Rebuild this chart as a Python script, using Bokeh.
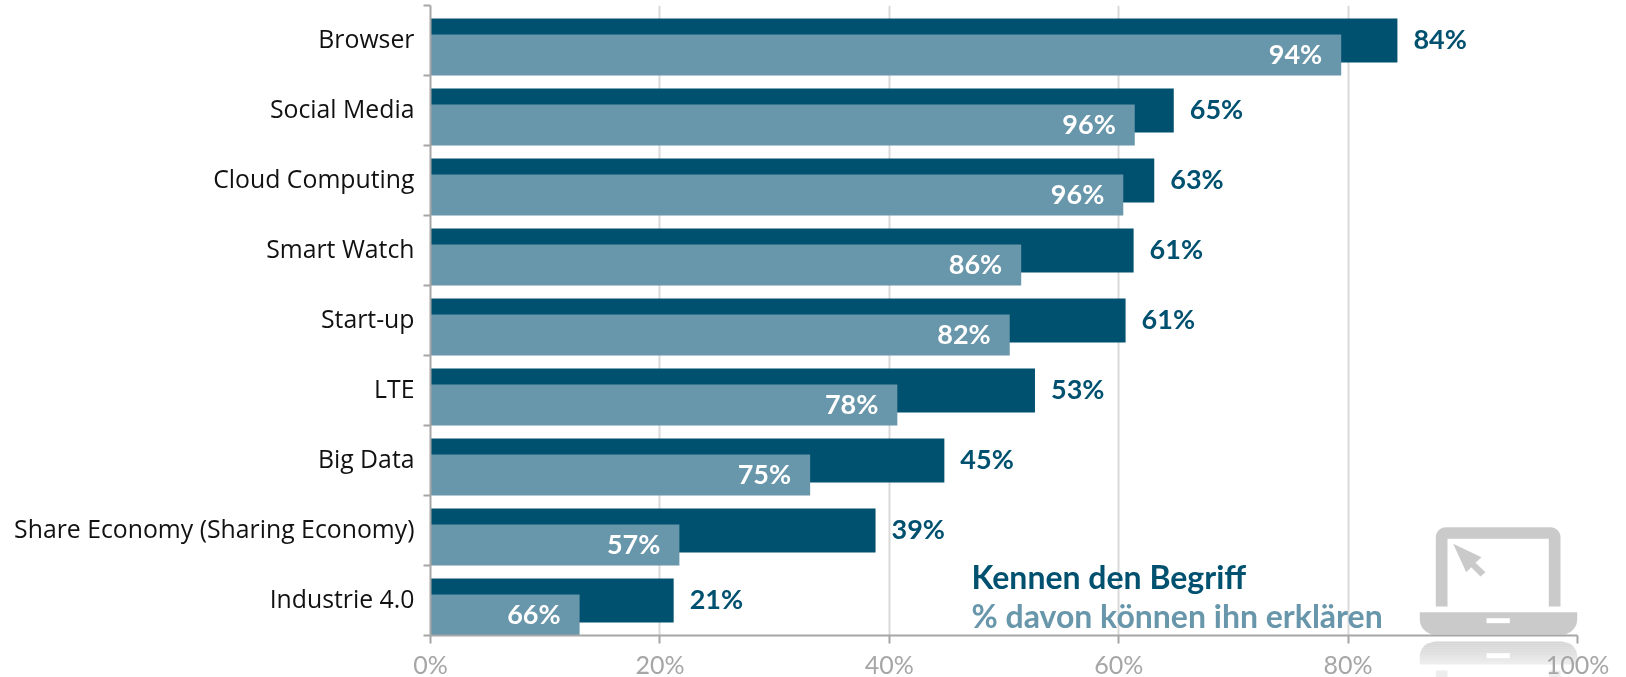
from bokeh.plotting import figure
from bokeh.embed import file_html
from bokeh.resources import INLINE
from bokeh.core.properties import value
from bokeh.models import (Range1d, FixedTicker, ColumnDataSource, Label)
import math

categories = ["Browser", "Social Media", "Cloud Computing", "Smart Watch", "Start-up", "LTE",
              "Big Data", "Share Economy (Sharing Economy)", "Industrie 4.0"]
kennen = [84.3, 64.8, 63.1, 61.3, 60.6, 52.7, 44.8, 38.8, 21.2]
erklaeren_bar = [79.4, 61.4, 60.4, 51.5, 50.5, 40.7, 33.1, 21.7, 13.0]
kennen_labels = ["84%", "65%", "63%", "61%", "61%", "53%", "45%", "39%", "21%"]
erklaeren_labels = ["94%", "96%", "96%", "86%", "82%", "78%", "75%", "57%", "66%"]
x_ticks = [0, 20, 40, 60, 80, 100]
x_tick_labels = ["0%", "20%", "40%", "60%", "80%", "100%"]
legend_texts = ["Kennen den Begriff", "% davon können ihn erklären"]

DARK = "#00506f"
LIGHT = "#6896aa"
GREY = "#a6a6a6"
ICON = "#cacaca"
FONT_CAT = "Open Sans"
FONT = "Lato"

n = len(categories)
W, H = 1626, 677
FRAME_L, FRAME_R, FRAME_T, FRAME_B = 430, 1577, 5, 635
PX_PER_PCT = (FRAME_R - FRAME_L) / 100

# background figure: decorative laptop icon, one unit = one pixel
bg = figure(width=W, height=H, output_backend="svg", toolbar_location=None,
            x_range=Range1d(0, W), y_range=Range1d(H, 0),
            min_border_left=0, min_border_right=0, min_border_top=0, min_border_bottom=0,
            outline_line_color=None, x_axis_location=None, y_axis_location=None)
bg.grid.visible = False
bg.styles = {"position": "fixed", "left": "0", "top": "0"}


def arc(cx, cy, r, a0, a1, k=8):
    return [(cx + r * math.cos(math.radians(a0 + (a1 - a0) * i / k)),
             cy + r * math.sin(math.radians(a0 + (a1 - a0) * i / k))) for i in range(k + 1)]


def shape(pts, color, alpha=1.0):
    bg.patch([q[0] for q in pts], [q[1] for q in pts], fill_color=color, fill_alpha=alpha, line_color=None)


shape([(1435.3, 606)] + arc(1445.3, 536.7, 10, 180, 270) + arc(1550, 536.7, 10, 270, 360)
      + [(1560, 606), (1548.3, 606), (1548.3, 538.3), (1447, 538.3), (1447, 606)], ICON)
shape([(1452.7, 543.3), (1481, 556.7), (1475, 562.3), (1485, 571.7), (1480, 576),
       (1470.7, 566.7), (1465.7, 571.7)], ICON)
shape([(1419.3, 611.7), (1576.7, 611.7)] + arc(1561.7, 619, 15, 0, 90) + arc(1434.3, 619, 15, 90, 180), ICON)
shape([(1486, 617.7), (1509.3, 617.7), (1509.3, 622.7), (1486, 622.7)], "white")

top, bot = 641.0, 664.0
steps = 12
for s in range(steps):
    y0 = top + (bot - top) * s / steps
    y1 = top + (bot - top) * (s + 1) / steps
    inset0 = 15 - math.sqrt(max(0.0, 225 - max(0.0, 15 - (y0 - top)) ** 2))
    inset1 = 15 - math.sqrt(max(0.0, 225 - max(0.0, 15 - (y1 - top)) ** 2))
    a = 0.8 - 0.5 * s / steps
    shape([(1419.3 + inset0, y0), (1576.7 - inset0, y0), (1576.7 - inset1, y1), (1419.3 + inset1, y1)], ICON, a)
shape([(1486, 652.7), (1509.3, 652.7), (1509.3, 657.7), (1486, 657.7)], "white")
shape([(1435.3, 670), (1447, 670), (1447, 677), (1435.3, 677)], ICON, 0.35)
shape([(1548.3, 670), (1560, 670), (1560, 677), (1548.3, 677)], ICON, 0.35)

# main chart, transparent, on top
p = figure(width=W, height=H, output_backend="svg", toolbar_location=None,
           x_range=Range1d(0, 100), y_range=Range1d(n, 0),
           min_border_left=FRAME_L, min_border_right=W - FRAME_R, min_border_top=FRAME_T,
           min_border_bottom=H - FRAME_B,
           outline_line_color=None, border_fill_color=None, background_fill_color=None)
p.styles = {"position": "fixed", "left": "0", "top": "0"}

pos = list(range(n))
src = ColumnDataSource(dict(
    dark_y=[i + 0.5 for i in pos], light_y=[i + 0.707 for i in pos],
    kennen=kennen, erkl=erklaeren_bar, klab=kennen_labels, elab=erklaeren_labels))

p.hbar(y="dark_y", right="kennen", left=0, height=44 / 70, source=src, fill_color=DARK, line_color=None)
p.hbar(y="light_y", right="erkl", left=0, height=41 / 70, source=src, fill_color=LIGHT, line_color=None)

p.text(x="kennen", y="dark_y", text="klab", source=src, x_offset=16, y_offset=-2, text_align="left",
       text_baseline="middle", text_color=DARK, text_font=value(FONT), text_font_style="bold",
       text_font_size="27px")
p.text(x="erkl", y="light_y", text="elab", source=src, x_offset=-19, y_offset=-1.5, text_align="right",
       text_baseline="middle", text_color="white", text_font=value(FONT), text_font_style="bold",
       text_font_size="27px")

xa = p.xaxis[0]
xa.ticker = FixedTicker(ticks=x_ticks)
xa.major_label_text_font_size = "0px"
xa.major_label_text_color = None
xa.major_label_standoff = 0
xa.axis_line_color = GREY
xa.axis_line_width = 2
xa.major_tick_line_color = GREY
xa.major_tick_line_width = 2
xa.major_tick_in = 0
xa.major_tick_out = 8
xa.minor_tick_line_color = None

ya = p.yaxis[0]
# label anchors sit slightly above each slot's middle so the text centres match
label_pos = [i + 0.47 for i in pos]
ya.ticker = FixedTicker(ticks=label_pos, minor_ticks=list(range(n + 1)))
ya.major_label_overrides = {c: t for c, t in zip(label_pos, categories)}
ya.major_label_text_font = FONT_CAT
ya.major_label_text_font_size = "24.8px"
ya.major_label_text_color = "#111111"
ya.major_label_standoff = 9
ya.major_tick_line_color = None
ya.major_tick_in = 0
ya.major_tick_out = 0
ya.minor_tick_line_color = GREY
ya.minor_tick_line_width = 2
ya.minor_tick_in = 0
ya.minor_tick_out = 7
ya.axis_line_color = GREY
ya.axis_line_width = 2

p.ygrid.grid_line_color = None
p.xgrid.grid_line_color = "#d9d9d9"
p.xgrid.grid_line_width = 2
p.xgrid.ticker = FixedTicker(ticks=x_ticks)

# legend (screen offsets are measured from the frame's lower left corner)
for txt, yy, col in zip(legend_texts, [59, 20], [DARK, LIGHT]):
    p.add_layout(Label(x=541, y=yy, x_units="screen", y_units="screen", text=txt, text_color=col,
                       text_font=FONT, text_font_style="bold", text_font_size="32px",
                       text_align="left", text_baseline="middle"))

# x tick labels live on a full-canvas overlay sharing the percent scale, so they can sit
# as low as in the original without squeezing the plot frame
ov = figure(width=W, height=H, output_backend="svg", toolbar_location=None,
            x_range=Range1d(-FRAME_L / PX_PER_PCT, (W - FRAME_L) / PX_PER_PCT), y_range=Range1d(H, 0),
            min_border_left=0, min_border_right=0, min_border_top=0, min_border_bottom=0,
            outline_line_color=None, x_axis_location=None, y_axis_location=None,
            border_fill_color=None, background_fill_color=None)
ov.grid.visible = False
ov.styles = {"position": "fixed", "left": "0", "top": "0"}
ov.text(x=x_ticks, y=[663] * len(x_ticks), text=x_tick_labels, text_align="center",
        text_baseline="middle", text_color=GREY, text_font=value(FONT), text_font_size="25px")

open("out.html", "w").write(file_html((bg, p, ov), INLINE))
